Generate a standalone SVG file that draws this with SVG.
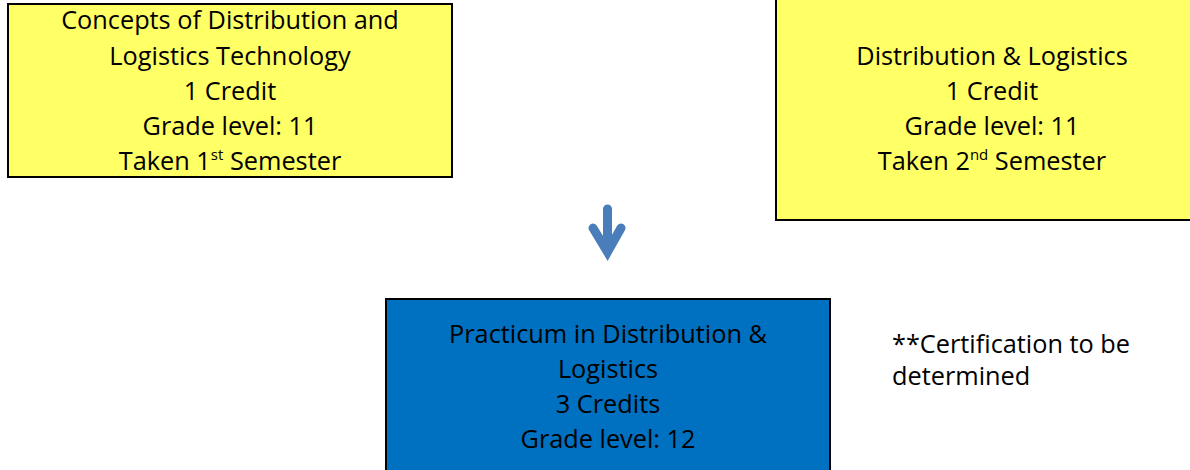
<svg xmlns="http://www.w3.org/2000/svg" width="1190" height="470" viewBox="0 0 1190 470">
<style>
.box{stroke:#000;stroke-width:2}
.yel{fill:#ffff66}
.blu{fill:#0070c0}
text{font-family:"Open Sans","Liberation Sans",sans-serif;font-size:25.3px;fill:#000}
.c{text-anchor:middle}
.sup{font-size:15px}
</style>
<rect width="1190" height="470" fill="#fff"/>
<g id="node-concepts">
<rect class="box yel" x="8" y="4" width="444" height="173"/>
<text class="c" x="230" y="29">Concepts of Distribution and</text>
<text class="c" x="230" y="65">Logistics Technology</text>
<text class="c" x="230" y="100">1 Credit</text>
<text class="c" x="230" y="135">Grade level: 11</text>
<text class="c" x="230" y="170">Taken 1<tspan class="sup" dy="-10">st</tspan><tspan dy="10"> Semester</tspan></text>
</g>
<g id="node-distribution">
<rect class="box yel" x="776" y="-10" width="430" height="230"/>
<text class="c" x="992" y="65">Distribution &amp; Logistics</text>
<text class="c" x="992" y="100">1 Credit</text>
<text class="c" x="992" y="135">Grade level: 11</text>
<text class="c" x="992" y="170">Taken 2<tspan class="sup" dy="-10">nd</tspan><tspan dy="10"> Semester</tspan></text>
</g>
<g id="connectors">
<path d="M607.5 209 V252 M593 228 L607.5 252 L621 228" fill="none" stroke="#4a7ebb" stroke-width="9" stroke-linecap="round" stroke-linejoin="miter"/>
</g>
<g id="node-practicum">
<rect class="box blu" x="386" y="299" width="444" height="190"/>
<text class="c" x="608" y="343">Practicum in Distribution &amp;</text>
<text class="c" x="608" y="378">Logistics</text>
<text class="c" x="608" y="413">3 Credits</text>
<text class="c" x="608" y="448">Grade level: 12</text>
</g>
<g id="note">
<text x="892" y="353">**Certification to be</text>
<text x="892" y="385">determined</text>
</g>
</svg>
